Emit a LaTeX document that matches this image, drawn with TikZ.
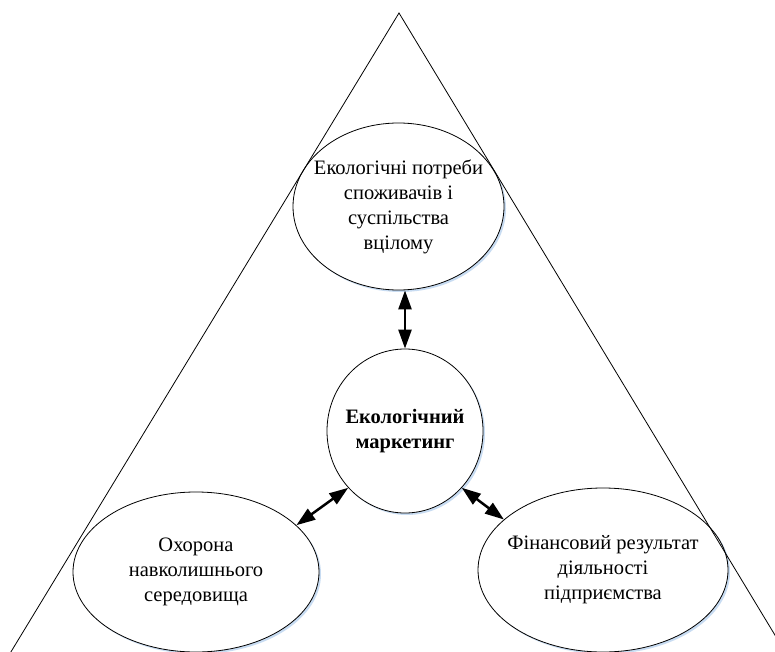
\documentclass[tikz,border=0pt]{standalone}
\usepackage{fontspec}
\setmainfont{Liberation Serif}
\newfontfamily\tnr{Liberation Serif}
\usetikzlibrary{shapes.geometric,arrows.meta,shadows}
\definecolor{shblue}{RGB}{200,220,242}
\begin{document}
\begin{tikzpicture}[x=1pt,y=-1pt,
  oval/.style={draw=black, line width=0.8pt, fill=white, ellipse, inner sep=0pt,
    drop shadow={shadow xshift=2pt, shadow yshift=-2pt, fill=shblue, opacity=1}},
  lbl/.style={align=center, font=\tnr\fontsize{20.5}{25}\selectfont, inner sep=0pt},
  tri/.style={draw=black, line width=0.8pt},
  arr/.style={line width=2.5pt, {Triangle[length=19pt,width=13pt]}-{Triangle[length=19pt,width=13pt]}}]
\useasboundingbox (0,0) rectangle (775,652);
\clip (0,0) rectangle (775,652);
\fill[white] (0,0) rectangle (775,652);
% ellipses
\node[oval, minimum width=211pt, minimum height=167pt] (top) at (398.5,206.5) {};
\node[oval, minimum width=156pt, minimum height=164pt] (c) at (405,431) {};
\node[oval, minimum width=246pt, minimum height=160pt] (l) at (196,572) {};
\node[oval, minimum width=250pt, minimum height=164pt] (r) at (603,570) {};
% triangle sides
\coordinate (apex) at (399,13);
\coordinate (bl) at (6,660);
\coordinate (br) at (790,660);
\draw[tri] (bl) -- (apex) -- (br);
% texts
\node[lbl] (topt) at (top.center) {Екологічні потреби\\споживачів і\\суспільства\\вцілому};
\node[lbl] (ct) at (c.center) {\textbf{Екологічний}\\\textbf{маркетинг}};
\node[lbl] (lt) at (l.center) {Охорона\\навколишнього\\середовища};
\node[lbl] (rt) at (r.center) {Фінансовий результат\\діяльності\\підприємства};
% arrows
\draw[arr] (c.north) -- (top.south -| c.north);
\draw[arr] (c.-135) -- (l.25);
\draw[arr] (c.-45) -- (r.153);
\end{tikzpicture}
\end{document}
